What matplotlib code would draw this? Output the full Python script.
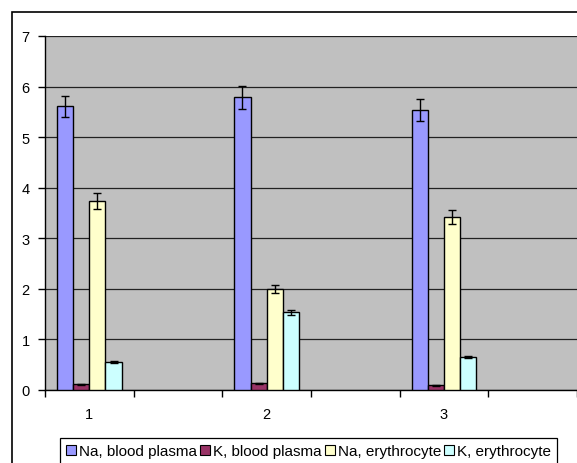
import matplotlib
matplotlib.use("Agg")
import matplotlib.pyplot as plt
import matplotlib.patches as mpatches
import numpy as np

plt.rcParams['font.family'] = ['Liberation Sans', 'DejaVu Sans']

categories = ["1", "", "2", "", "3", ""]
series_names = ["Na, blood plasma", "K, blood plasma", "Na, erythrocyte", "K, erythrocyte"]
na_plasma = [5.61, np.nan, 5.79, np.nan, 5.53, np.nan]
k_plasma = [0.11, np.nan, 0.13, np.nan, 0.09, np.nan]
na_ery = [3.74, np.nan, 2.00, np.nan, 3.42, np.nan]
k_ery = [0.56, np.nan, 1.54, np.nan, 0.65, np.nan]
na_plasma_err = [0.21, np.nan, 0.23, np.nan, 0.22, np.nan]
k_plasma_err = [0.01, np.nan, 0.01, np.nan, 0.01, np.nan]
na_ery_err = [0.16, np.nan, 0.075, np.nan, 0.14, np.nan]
k_ery_err = [0.02, np.nan, 0.05, np.nan, 0.02, np.nan]
colors = ["#9999FF", "#993366", "#FFFFCC", "#CCFFFF"]

values = [na_plasma, k_plasma, na_ery, k_ery]
errors = [na_plasma_err, k_plasma_err, na_ery_err, k_ery_err]

W, H = 577, 464
fig = plt.figure(figsize=(W / 100, H / 100), dpi=100)
ax = fig.add_axes([45 / W, (H - 391) / H, 532 / W, 354 / H])
ax.set_facecolor("#C0C0C0")

x = np.arange(len(categories))
n = len(values)
bw = 1 / 5.5
handles = []
for i, (v, e, c, name) in enumerate(zip(values, errors, colors, series_names)):
    pos = x + (i - (n - 1) / 2) * bw
    ax.bar(pos, v, width=bw, color=c, edgecolor="black", linewidth=1.0,
           label=name, zorder=3)
    ax.errorbar(pos, v, yerr=e, fmt="none", ecolor="black", elinewidth=1.0,
                capsize=3.2, capthick=1.0, zorder=4)
    handles.append(mpatches.Patch(facecolor=c, edgecolor="black", linewidth=0.8, label=name))

ax.set_xlim(-0.5, len(categories) - 0.5)
ax.set_ylim(0, 7)
ax.set_yticks(np.arange(0, 8, 1))
ax.yaxis.grid(True, color="#222222", linewidth=0.9, zorder=1)
ax.set_axisbelow(True)

ax.set_xticks(x)
ax.set_xticklabels(categories, fontsize=10.5)
ax.set_xticks(np.arange(-0.5, len(categories), 1), minor=True)
ax.tick_params(axis="x", which="major", length=0, pad=12)
ax.tick_params(axis="x", which="minor", length=5, width=1, direction="out", color="black")
ax.tick_params(axis="y", length=5, width=1, direction="out", pad=6, labelsize=10.5)

for s in ["top", "right"]:
    ax.spines[s].set_visible(False)
ax.spines["left"].set_color("black")
ax.spines["bottom"].set_color("black")
ax.spines["left"].set_linewidth(1)
ax.spines["bottom"].set_linewidth(1)

# outer chart frame
frame = mpatches.Rectangle((12 / W, -0.1), 1.2, (H - 13) / H + 0.1, transform=fig.transFigure,
                           fill=False, edgecolor="black", linewidth=1.2, clip_on=False)
fig.patches.append(frame)

leg = fig.legend(handles=handles, loc="upper left", bbox_to_anchor=(60 / W, (H - 439) / H),
                 ncol=4, fontsize=11, frameon=True, fancybox=False, edgecolor="black",
                 framealpha=1, handlelength=0.65, handleheight=0.65, handletextpad=0.2,
                 columnspacing=0.2, borderpad=0.4, borderaxespad=0)
leg.get_frame().set_linewidth(0.9)

fig.savefig("out.png", dpi=100)
